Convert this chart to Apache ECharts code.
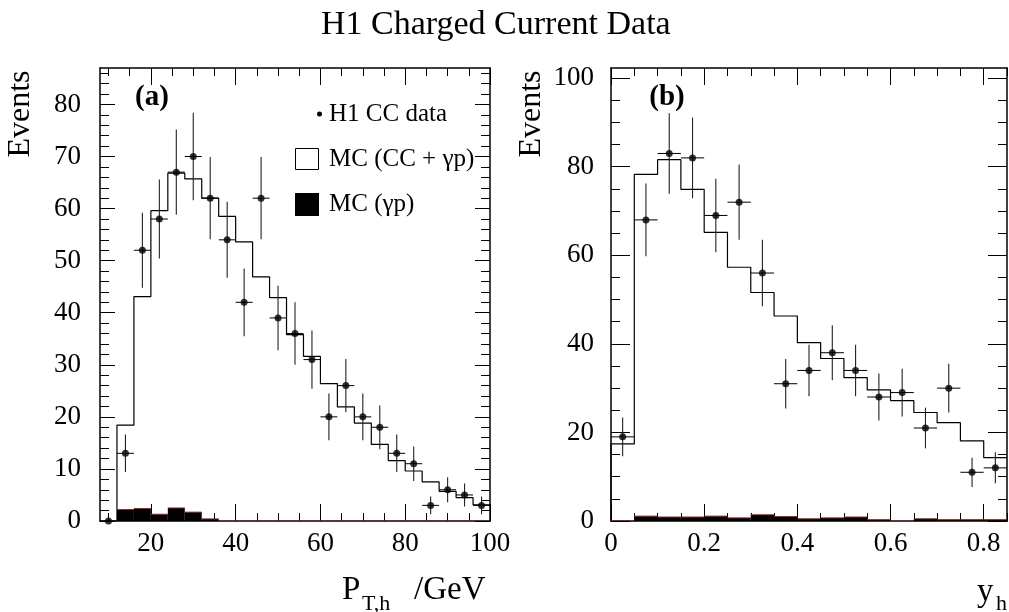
<!DOCTYPE html>
<html>
<head>
<meta charset="utf-8">
<script src="https://cdn.jsdelivr.net/npm/echarts@6/dist/echarts.min.js"></script>
<style>html,body{margin:0;padding:0;background:#fff}#c{width:1009px;height:612px}</style>
</head>
<body>
<div id="c"></div>
<script>
// ---------- Panel (a): P_T,h ----------
var dataEdgesA = [8,12,16,20,24,28,32,36,40,44,48,52,56,60,64,68,72,76,80,84,88,92,96,100];
var dataA = [0,13,52,58,67,70,62,54,42,62,39,36,31,20,26,20,18,13,11,3,6,5,3];
var errA = [0,3.6,7.2,7.6,8.2,8.4,7.9,7.3,6.5,7.9,6.2,6.0,5.6,4.5,5.1,4.5,4.2,3.6,3.3,1.7,2.4,2.2,1.7];
var mcEdgesA = [12,16,20,24,28,32,36,40,44,48,52,56,60,64,68,72,76,80,84,88,92,96,100];
var mcA = [18.4,43.1,59.6,66.8,65.7,62.0,58.5,53.6,46.9,42.9,35.8,31.6,26.4,21.9,18.8,14.7,11.6,9.6,7.5,5.7,4.5,3.1];
var gpA = [2.2,2.4,1.3,2.5,1.7,0.4,0,0,0,0,0,0,0,0,0,0,0,0,0,0,0,0];
var xMajorA = [20,40,60,80,100];
var xMinorA = [10,15,25,30,35,45,50,55,65,70,75,85,90,95];
var yMajorA = [0,10,20,30,40,50,60,70,80];
var yMinorA = [2,4,6,8,12,14,16,18,22,24,26,28,32,34,36,38,42,44,46,48,52,54,56,58,62,64,66,68,72,74,76,78,82,84,86];

// ---------- Panel (b): y_h ----------
var dataEdgesB = [0,0.05,0.1,0.15,0.2,0.25,0.3,0.35,0.4,0.45,0.5,0.55,0.6,0.65,0.7,0.75,0.8,0.85];
var dataB = [19,68,83,82,69,72,56,31,34,38,34,28,29,21,30,11,12];
var errB = [4.4,8.2,9.1,9.1,8.3,8.5,7.5,5.6,5.8,6.2,5.8,5.3,5.4,4.6,5.5,3.3,3.5];
var mcEdgesB = [0,0.05,0.1,0.15,0.2,0.25,0.3,0.35,0.4,0.45,0.5,0.55,0.6,0.65,0.7,0.75,0.8,0.85];
var mcB = [17.4,78.3,81.6,74.9,65.2,57.3,51.6,46.3,40.3,36.7,32.4,29.6,27.2,24.5,22.2,18.1,14.3];
var gpB = [0,1.1,0.9,0.9,1.1,0.7,1.4,1.0,0.5,0.7,0.9,0.3,0.1,0.5,0.3,0.3,0.3];
var xMajorB = [0,0.2,0.4,0.6,0.8];
var xMinorB = [0.05,0.1,0.15,0.25,0.3,0.35,0.45,0.5,0.55,0.65,0.7,0.75,0.85];
var yMajorB = [0,20,40,60,80,100];
var yMinorB = [5,10,15,25,30,35,45,50,55,65,70,75,85,90,95];

var FONT = 'Liberation Serif';

function stepPoints(edges, vals) {
  var pts = [[edges[0], 0]];
  for (var i = 0; i < vals.length; i++) pts.push([edges[i + 1], vals[i]]);
  return pts;
}
function rectData(edges, vals) {
  var d = [];
  for (var i = 0; i < vals.length; i++) d.push([edges[i], edges[i + 1], vals[i]]);
  return d;
}
function errData(edges, vals, errs) {
  var d = [];
  for (var i = 0; i < vals.length; i++) d.push([(edges[i] + edges[i + 1]) / 2, vals[i], errs[i], edges[i], edges[i + 1]]);
  return d;
}
function ptData(edges, vals) {
  var d = [];
  for (var i = 0; i < vals.length; i++) d.push([(edges[i] + edges[i + 1]) / 2, vals[i]]);
  return d;
}

function axesFor(isX, grid, min, max, major, minor, majLen, minLen, labelMargin) {
  var p1 = isX ? 'bottom' : 'left', p2 = isX ? 'top' : 'right';
  var base = { type: 'value', gridIndex: grid, min: min, max: max, offset: 0, splitLine: { show: false } };
  function ax(pos, vals, len, showLine, showLabel) {
    return Object.assign({}, base, {
      position: pos,
      axisLine: { show: showLine, onZero: false, lineStyle: { color: '#000', width: 1.5 } },
      axisTick: { show: true, inside: true, length: len, customValues: vals, lineStyle: { color: '#000', width: 1 } },
      axisLabel: { show: showLabel, customValues: vals, margin: labelMargin, color: '#000', fontFamily: FONT, fontSize: 27 }
    });
  }
  return [ax(p1, major, majLen, true, true), ax(p1, minor, minLen, false, false),
          ax(p2, major, majLen, true, false), ax(p2, minor, minLen, false, false)];
}

var xAxes = [].concat(
  axesFor(true, 0, 8, 100, xMajorA, xMinorA, 17, 8, 9),
  axesFor(true, 1, 0, 0.85, xMajorB, xMinorB, 17, 8, 9));
var yAxes = [].concat(
  axesFor(false, 0, 0, 87, yMajorA, yMinorA, 15, 9, 19),
  axesFor(false, 1, 0, 102.3, yMajorB, yMinorB, 19, 9, 17));

function rectRender(params, api) {
  var a = api.coord([api.value(0), api.value(2)]);
  var b = api.coord([api.value(1), 0]);
  return { type: 'group', children: [
    { type: 'rect', shape: { x: a[0], y: a[1], width: b[0] - a[0], height: b[1] - a[1] }, style: { fill: '#000' } },
    { type: 'line', shape: { x1: a[0], y1: a[1], x2: b[0], y2: a[1] }, style: { stroke: '#8a2a2a', lineWidth: 1 } }
  ]};
}
function errRender(params, api) {
  var x = api.value(0), y = api.value(1), e = api.value(2);
  var c = api.coord([x, y]), lo = api.coord([x, y - e]), hi = api.coord([x, y + e]);
  var l = api.coord([api.value(3), y]), r = api.coord([api.value(4), y]);
  return { type: 'group', children: [
    { type: 'line', shape: { x1: l[0], y1: c[1], x2: r[0], y2: c[1] }, style: { stroke: '#000', lineWidth: 1 } },
    { type: 'line', shape: { x1: c[0], y1: hi[1], x2: c[0], y2: lo[1] }, style: { stroke: '#222', lineWidth: 1.1 } }
  ]};
}

function panelSeries(xi, yi, name, dEdges, dVals, dErrs, mEdges, mVals, gVals) {
  return [
    { type: 'line', name: 'MC (CC + γp)', xAxisIndex: xi, yAxisIndex: yi, step: 'start', showSymbol: false, symbol: 'none',
      data: stepPoints(mEdges, mVals), lineStyle: { color: '#000', width: 1.2 }, z: 2, silent: true },
    { type: 'custom', name: 'MC (γp)', xAxisIndex: xi, yAxisIndex: yi, renderItem: rectRender,
      encode: { x: [0, 1], y: 2 }, data: rectData(mEdges, gVals), z: 3, clip: true },
    { type: 'custom', name: name + ' err', xAxisIndex: xi, yAxisIndex: yi, renderItem: errRender,
      encode: { x: [0, 3, 4], y: [1] }, data: errData(dEdges, dVals, dErrs), z: 4, clip: true },
    { type: 'scatter', name: 'H1 CC data', xAxisIndex: xi, yAxisIndex: yi, symbol: 'circle', symbolSize: 7,
      itemStyle: { color: '#000' }, data: ptData(dEdges, dVals), z: 5 }
  ];
}

var txt = function (x, y, text, size, opts) {
  return { type: 'text', x: x, y: y, style: Object.assign({ text: text, fill: '#000', font: size + 'px "' + FONT + '"', textAlign: 'left', textVerticalAlign: 'middle' }, opts || {}) };
};

var graphics = [
  // panel labels
  { type: 'text', x: 152, y: 98, style: { text: '(a)', fill: '#000', font: 'bold 29px "' + FONT + '"', textAlign: 'center', textVerticalAlign: 'middle' } },
  { type: 'text', x: 667, y: 98, style: { text: '(b)', fill: '#000', font: 'bold 29px "' + FONT + '"', textAlign: 'center', textVerticalAlign: 'middle' } },
  // y axis titles
  { type: 'text', x: 21, y: 114, rotation: Math.PI / 2, style: { text: 'Events', fill: '#000', font: '32px "' + FONT + '"', textAlign: 'center', textVerticalAlign: 'middle' } },
  { type: 'text', x: 532, y: 114, rotation: Math.PI / 2, style: { text: 'Events', fill: '#000', font: '32px "' + FONT + '"', textAlign: 'center', textVerticalAlign: 'middle' } },
  // x axis titles
  txt(342, 590, 'P', 33),
  txt(362, 604, 'T,h', 22),
  txt(414, 590, '/GeV', 33),
  txt(977, 592, 'y', 33),
  txt(996, 604, 'h', 22),
  // legend
  { type: 'circle', shape: { cx: 319.5, cy: 114, r: 2.5 }, style: { fill: '#000' } },
  txt(329, 114, 'H1 CC data', 25),
  { type: 'rect', shape: { x: 295.5, y: 148.5, width: 23, height: 21 }, style: { fill: '#fff', stroke: '#000', lineWidth: 1 } },
  txt(329, 159, 'MC (CC + γp)', 25),
  { type: 'rect', shape: { x: 295, y: 193, width: 24, height: 23 }, style: { fill: '#000' } },
  txt(329, 204, 'MC (γp)', 25)
];

var chart = echarts.init(document.getElementById('c'), null, { renderer: 'canvas' });
chart.setOption({
  backgroundColor: '#fff',
  animation: false,
  title: { text: 'H1 Charged Current Data', left: 321, top: 8, padding: 0,
    textStyle: { fontFamily: FONT, fontSize: 34, fontWeight: 'normal', color: '#000' } },
  grid: [
    { left: 100, top: 68, width: 390, height: 453 },
    { left: 611, top: 68, width: 396, height: 453 }
  ],
  xAxis: xAxes,
  yAxis: yAxes,
  series: [].concat(
    panelSeries(0, 0, 'a', dataEdgesA, dataA, errA, mcEdgesA, mcA, gpA),
    panelSeries(4, 4, 'b', dataEdgesB, dataB, errB, mcEdgesB, mcB, gpB)),
  graphic: graphics
});
</script>
</body>
</html>
